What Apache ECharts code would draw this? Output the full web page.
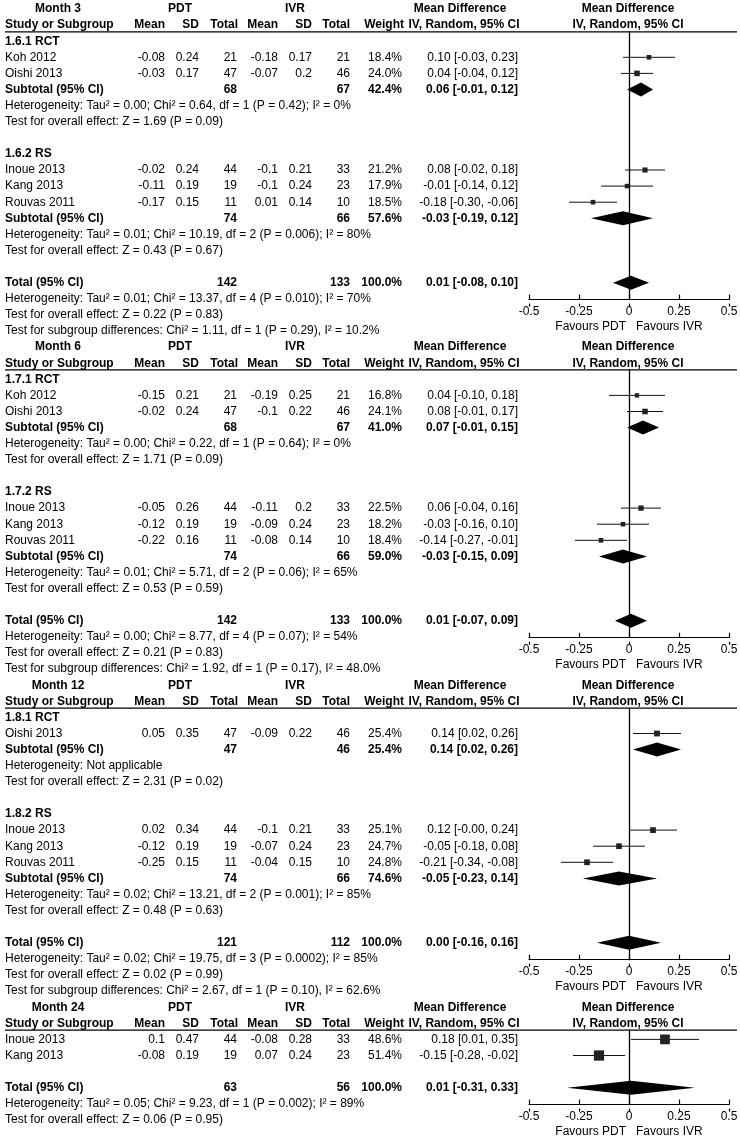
<!DOCTYPE html>
<html>
<head>
<meta charset="utf-8">
<script src="https://cdn.jsdelivr.net/npm/echarts@6/dist/echarts.min.js"></script>
<style>
  html, body { margin: 0; padding: 0; background: #fff; }
  #chart { width: 740px; height: 1141px; }
</style>
</head>
<body>
<div id="chart"></div>
<script>
// ---------- data ----------
const panels = ['Month 3', 'Month 6', 'Month 12', 'Month 24'];

// one entry per study row (panel index, subgroup index, -1 = no subgroup)
const studyPanel = [0, 0, 0, 0, 0, 1, 1, 1, 1, 1, 2, 2, 2, 2, 3, 3];
const studyGroup = [0, 0, 1, 1, 1, 2, 2, 3, 3, 3, 4, 5, 5, 5, -1, -1];
const studyNames = ['Koh 2012', 'Oishi 2013', 'Inoue 2013', 'Kang 2013', 'Rouvas 2011',
  'Koh 2012', 'Oishi 2013', 'Inoue 2013', 'Kang 2013', 'Rouvas 2011',
  'Oishi 2013', 'Inoue 2013', 'Kang 2013', 'Rouvas 2011',
  'Inoue 2013', 'Kang 2013'];
const pdtMean = [-0.08, -0.03, -0.02, -0.11, -0.17, -0.15, -0.02, -0.05, -0.12, -0.22, 0.05, 0.02, -0.12, -0.25, 0.1, -0.08];
const pdtSd   = [0.24, 0.17, 0.24, 0.19, 0.15, 0.21, 0.24, 0.26, 0.19, 0.16, 0.35, 0.34, 0.19, 0.15, 0.47, 0.19];
const pdtN    = [21, 47, 44, 19, 11, 21, 47, 44, 19, 11, 47, 44, 19, 11, 44, 19];
const ivrMean = [-0.18, -0.07, -0.1, -0.1, 0.01, -0.19, -0.1, -0.11, -0.09, -0.08, -0.09, -0.1, -0.07, -0.04, -0.08, 0.07];
const ivrSd   = [0.17, 0.2, 0.21, 0.24, 0.14, 0.25, 0.22, 0.2, 0.24, 0.14, 0.22, 0.21, 0.24, 0.15, 0.28, 0.24];
const ivrN    = [21, 46, 33, 23, 10, 21, 46, 33, 23, 10, 46, 33, 23, 10, 33, 23];
const weights = [18.4, 24.0, 21.2, 17.9, 18.5, 16.8, 24.1, 22.5, 18.2, 18.4, 25.4, 25.1, 24.7, 24.8, 48.6, 51.4];
const md      = [0.10, 0.04, 0.08, -0.01, -0.18, 0.04, 0.08, 0.06, -0.03, -0.14, 0.14, 0.12, -0.05, -0.21, 0.18, -0.15];
const ciLow   = [-0.03, -0.04, -0.02, -0.14, -0.30, -0.10, -0.01, -0.04, -0.16, -0.27, 0.02, -0.00, -0.18, -0.34, 0.01, -0.28];
const ciHigh  = [0.23, 0.12, 0.18, 0.12, -0.06, 0.18, 0.17, 0.16, 0.10, -0.01, 0.26, 0.24, 0.08, -0.08, 0.35, -0.02];

// subgroups
const groupPanel  = [0, 0, 1, 1, 2, 2];
const groupLabels = ['1.6.1 RCT', '1.6.2 RS', '1.7.1 RCT', '1.7.2 RS', '1.8.1 RCT', '1.8.2 RS'];
const groupPdtN   = [68, 74, 68, 74, 47, 74];
const groupIvrN   = [67, 66, 67, 66, 46, 66];
const groupWeight = [42.4, 57.6, 41.0, 59.0, 25.4, 74.6];
const groupMd     = [0.06, -0.03, 0.07, -0.03, 0.14, -0.05];
const groupLow    = [-0.01, -0.19, -0.01, -0.15, 0.02, -0.23];
const groupHigh   = [0.12, 0.12, 0.15, 0.09, 0.26, 0.14];
const groupHet = [
  'Heterogeneity: Tau² = 0.00; Chi² = 0.64, df = 1 (P = 0.42); I² = 0%',
  'Heterogeneity: Tau² = 0.01; Chi² = 10.19, df = 2 (P = 0.006); I² = 80%',
  'Heterogeneity: Tau² = 0.00; Chi² = 0.22, df = 1 (P = 0.64); I² = 0%',
  'Heterogeneity: Tau² = 0.01; Chi² = 5.71, df = 2 (P = 0.06); I² = 65%',
  'Heterogeneity: Not applicable',
  'Heterogeneity: Tau² = 0.02; Chi² = 13.21, df = 2 (P = 0.001); I² = 85%'
];
const groupTest = [
  'Test for overall effect: Z = 1.69 (P = 0.09)',
  'Test for overall effect: Z = 0.43 (P = 0.67)',
  'Test for overall effect: Z = 1.71 (P = 0.09)',
  'Test for overall effect: Z = 0.53 (P = 0.59)',
  'Test for overall effect: Z = 2.31 (P = 0.02)',
  'Test for overall effect: Z = 0.48 (P = 0.63)'
];

// totals per panel
const totPdtN = [142, 142, 121, 63];
const totIvrN = [133, 133, 112, 56];
const totMd   = [0.01, 0.01, 0.00, 0.01];
const totLow  = [-0.08, -0.07, -0.16, -0.31];
const totHigh = [0.10, 0.09, 0.16, 0.33];
const totHet = [
  'Heterogeneity: Tau² = 0.01; Chi² = 13.37, df = 4 (P = 0.010); I² = 70%',
  'Heterogeneity: Tau² = 0.00; Chi² = 8.77, df = 4 (P = 0.07); I² = 54%',
  'Heterogeneity: Tau² = 0.02; Chi² = 19.75, df = 3 (P = 0.0002); I² = 85%',
  'Heterogeneity: Tau² = 0.05; Chi² = 9.23, df = 1 (P = 0.002); I² = 89%'
];
const totTest = [
  'Test for overall effect: Z = 0.22 (P = 0.83)',
  'Test for overall effect: Z = 0.21 (P = 0.83)',
  'Test for overall effect: Z = 0.02 (P = 0.99)',
  'Test for overall effect: Z = 0.06 (P = 0.95)'
];
const subgroupDiff = [
  'Test for subgroup differences: Chi² = 1.11, df = 1 (P = 0.29), I² = 10.2%',
  'Test for subgroup differences: Chi² = 1.92, df = 1 (P = 0.17), I² = 48.0%',
  'Test for subgroup differences: Chi² = 2.67, df = 1 (P = 0.10), I² = 62.6%',
  null
];

const xTicks = [-0.5, -0.25, 0, 0.25, 0.5];
const axisTitle = 'Favours PDT   Favours IVR';

// ---------- layout ----------
const W = 740, H = 1141;
const ROWH = 16.1, Y0 = 9;
const FONT = '"Liberation Sans", Arial, Helvetica, sans-serif';
const rowY = r => Y0 + r * ROWH;

const f2 = v => (Object.is(v, -0) ? '-' : '') + v.toFixed(2);
const ci = (m, l, h) => f2(m) + ' [' + f2(l) + ', ' + f2(h) + ']';
const pct = w => w.toFixed(1) + '%';

// assign table rows
const rows = [];
const panelStart = [], totRow = [], studyRow = [], groupRow = [];
let r = 0;
panels.forEach((title, p) => {
  panelStart[p] = r;
  rows.push({ row: r++, kind: 'head1', p });
  rows.push({ row: r++, kind: 'head2', p });
  const groups = groupPanel.map((gp, g) => gp === p ? g : -1).filter(g => g >= 0);
  if (groups.length) {
    groups.forEach(g => {
      rows.push({ row: r++, kind: 'group', g });
      studyGroup.forEach((sg, i) => {
        if (sg === g) { studyRow[i] = r; rows.push({ row: r++, kind: 'study', i }); }
      });
      groupRow[g] = r;
      rows.push({ row: r++, kind: 'subtotal', g });
      rows.push({ row: r++, kind: 'note', text: groupHet[g] });
      rows.push({ row: r++, kind: 'note', text: groupTest[g] });
      r++;
    });
  } else {
    studyPanel.forEach((sp, i) => {
      if (sp === p) { studyRow[i] = r; rows.push({ row: r++, kind: 'study', i }); }
    });
    r++;
  }
  totRow[p] = r;
  rows.push({ row: r++, kind: 'total', p });
  rows.push({ row: r++, kind: 'note', text: totHet[p] });
  rows.push({ row: r++, kind: 'note', text: totTest[p] });
  if (subgroupDiff[p]) rows.push({ row: r++, kind: 'note', text: subgroupDiff[p] });
});

function txt(x, y, s, align, bold) {
  return {
    type: 'text', x: x, y: y,
    style: {
      text: s, fill: '#000',
      font: (bold ? 'bold ' : '') + '12px ' + FONT,
      align: align, textAlign: align,
      verticalAlign: 'middle', textVerticalAlign: 'middle'
    }
  };
}

function renderTable(params, api) {
  const d = rows[params.dataIndex];
  const y = api.coord([0, d.row])[1];
  const c = [];
  if (d.kind === 'head1') {
    c.push(txt(58, y, panels[d.p], 'center', true));
    c.push(txt(180, y, 'PDT', 'center', true));
    c.push(txt(295, y, 'IVR', 'center', true));
    c.push(txt(460, y, 'Mean Difference', 'center', true));
    c.push(txt(628, y, 'Mean Difference', 'center', true));
  } else if (d.kind === 'head2') {
    c.push(txt(5, y, 'Study or Subgroup', 'left', true));
    c.push(txt(165, y, 'Mean', 'right', true));
    c.push(txt(199, y, 'SD', 'right', true));
    c.push(txt(238, y, 'Total', 'right', true));
    c.push(txt(278, y, 'Mean', 'right', true));
    c.push(txt(312, y, 'SD', 'right', true));
    c.push(txt(350, y, 'Total', 'right', true));
    c.push(txt(404, y, 'Weight', 'right', true));
    c.push(txt(464, y, 'IV, Random, 95% CI', 'center', true));
    c.push(txt(628, y, 'IV, Random, 95% CI', 'center', true));
    const ly = api.coord([0, d.row + 0.42])[1];
    c.push({ type: 'line', shape: { x1: 5, y1: ly, x2: 737, y2: ly }, style: { stroke: '#000', lineWidth: 1.2 } });
  } else if (d.kind === 'group') {
    c.push(txt(5, y, groupLabels[d.g], 'left', true));
  } else if (d.kind === 'study') {
    const i = d.i;
    c.push(txt(5, y, studyNames[i], 'left', false));
    c.push(txt(165, y, String(pdtMean[i]), 'right', false));
    c.push(txt(199, y, String(pdtSd[i]), 'right', false));
    c.push(txt(237, y, String(pdtN[i]), 'right', false));
    c.push(txt(278, y, String(ivrMean[i]), 'right', false));
    c.push(txt(312, y, String(ivrSd[i]), 'right', false));
    c.push(txt(350, y, String(ivrN[i]), 'right', false));
    c.push(txt(402, y, pct(weights[i]), 'right', false));
    c.push(txt(518, y, ci(md[i], ciLow[i], ciHigh[i]), 'right', false));
  } else if (d.kind === 'subtotal') {
    const g = d.g;
    c.push(txt(5, y, 'Subtotal (95% CI)', 'left', true));
    c.push(txt(237, y, String(groupPdtN[g]), 'right', true));
    c.push(txt(350, y, String(groupIvrN[g]), 'right', true));
    c.push(txt(402, y, pct(groupWeight[g]), 'right', true));
    c.push(txt(518, y, ci(groupMd[g], groupLow[g], groupHigh[g]), 'right', true));
  } else if (d.kind === 'total') {
    const p = d.p;
    c.push(txt(5, y, 'Total (95% CI)', 'left', true));
    c.push(txt(237, y, String(totPdtN[p]), 'right', true));
    c.push(txt(350, y, String(totIvrN[p]), 'right', true));
    c.push(txt(402, y, '100.0%', 'right', true));
    c.push(txt(518, y, ci(totMd[p], totLow[p], totHigh[p]), 'right', true));
  } else if (d.kind === 'note') {
    c.push(txt(5, y, d.text, 'left', false));
  }
  return { type: 'group', children: c };
}

function renderForest(params, api) {
  const row = api.value(1);
  const m = api.coord([api.value(0), row]);
  const lo = api.coord([api.value(2), row]);
  const hi = api.coord([api.value(3), row]);
  if (api.value(5) === 1) {
    return {
      type: 'polygon',
      shape: { points: [[lo[0], m[1]], [m[0], m[1] - 7], [hi[0], m[1]], [m[0], m[1] + 7]] },
      style: { fill: '#000' }
    };
  }
  // square side grows with the study weight
  const s = 1.5 + 0.17 * api.value(4);
  return {
    type: 'group',
    children: [
      { type: 'line', shape: { x1: lo[0], y1: m[1], x2: hi[0], y2: m[1] }, style: { stroke: '#111', lineWidth: 1 } },
      { type: 'rect', shape: { x: m[0] - s / 2, y: m[1] - s / 2, width: s, height: s }, style: { fill: '#222' } }
    ]
  };
}

// ---------- chart ----------
const grids = [{ left: 0, top: 0, width: W, height: H, outerBoundsMode: 'none' }];
const xAxes = [{ type: 'value', gridIndex: 0, min: 0, max: W, show: false }];
const yAxes = [{ type: 'value', gridIndex: 0, inverse: true, min: -Y0 / ROWH, max: (H - Y0) / ROWH, show: false }];
const series = [{
  type: 'custom', xAxisIndex: 0, yAxisIndex: 0, silent: true, clip: false,
  data: rows.map((d, k) => [0, d.row, k]),
  renderItem: renderTable
}];

panels.forEach((title, p) => {
  const topRow = panelStart[p] + 1.42;
  const axisRow = totRow[p] + 1.05;
  const gi = grids.length;
  grids.push({ left: 529, width: 200, top: rowY(topRow), height: (axisRow - topRow) * ROWH, outerBoundsMode: 'none' });
  xAxes.push({
    type: 'value', gridIndex: gi, position: 'bottom',
    min: xTicks[0], max: xTicks[xTicks.length - 1], interval: xTicks[1] - xTicks[0],
    axisLine: { onZero: false, lineStyle: { color: '#000', width: 1.2 } },
    axisTick: { inside: true, length: 5, lineStyle: { color: '#000', width: 1.2 } },
    axisLabel: { color: '#000', fontSize: 12, fontFamily: FONT, margin: 6, showMinLabel: true, showMaxLabel: true,
      formatter: v => String(v) },
    splitLine: { show: false },
    name: axisTitle, nameLocation: 'middle', nameGap: 21,
    nameTextStyle: { color: '#000', fontSize: 12, fontFamily: FONT }
  });
  yAxes.push({
    type: 'value', gridIndex: gi, inverse: true, min: topRow, max: axisRow,
    axisLine: { show: true, onZero: true, lineStyle: { color: '#000', width: 1.3 } },
    axisTick: { show: false }, axisLabel: { show: false }, splitLine: { show: false }
  });
  // small strip under the axis line so the ticks cross it
  const ti = grids.length;
  grids.push({ left: 529, width: 200, top: rowY(axisRow), height: 4, outerBoundsMode: 'none' });
  xAxes.push({
    type: 'value', gridIndex: ti, position: 'top',
    min: xTicks[0], max: xTicks[xTicks.length - 1], interval: xTicks[1] - xTicks[0],
    axisLine: { show: false }, axisLabel: { show: false }, splitLine: { show: false },
    axisTick: { inside: true, length: 3, lineStyle: { color: '#000', width: 1.2 } }
  });
  yAxes.push({ type: 'value', gridIndex: ti, show: false });

  const data = [];
  studyPanel.forEach((sp, i) => {
    if (sp === p) data.push([md[i], studyRow[i], ciLow[i], ciHigh[i], weights[i], 0]);
  });
  groupPanel.forEach((gp, g) => {
    if (gp === p) data.push([groupMd[g], groupRow[g], groupLow[g], groupHigh[g], groupWeight[g], 1]);
  });
  data.push([totMd[p], totRow[p], totLow[p], totHigh[p], 100, 1]);
  series.push({
    type: 'custom', xAxisIndex: gi, yAxisIndex: gi, silent: true, clip: false, z: 3,
    data: data, renderItem: renderForest
  });
});

const chart = echarts.init(document.getElementById('chart'), null, { renderer: 'canvas' });
chart.setOption({
  animation: false,
  backgroundColor: '#fff',
  grid: grids,
  xAxis: xAxes,
  yAxis: yAxes,
  series: series
});
</script>
</body>
</html>
